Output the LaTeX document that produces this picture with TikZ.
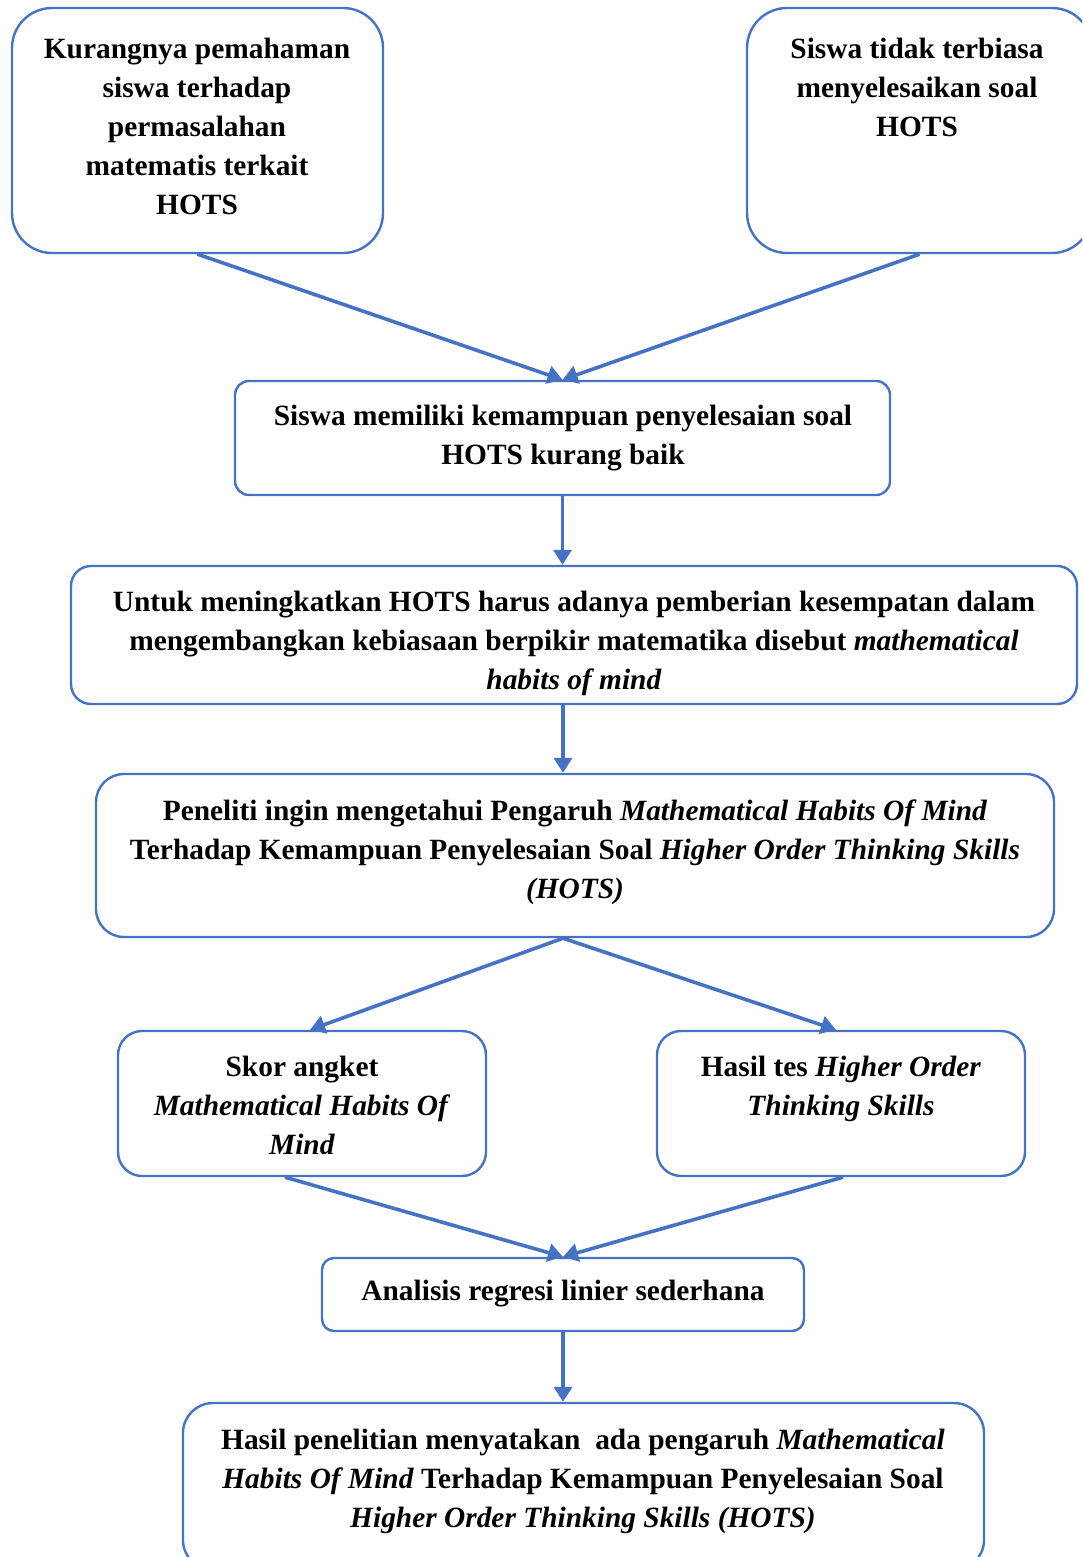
\documentclass[tikz,border=0pt]{standalone}
\usepackage{fontspec}
\setmainfont{Liberation Serif}
\usetikzlibrary{positioning, arrows.meta}
\definecolor{wordblue}{HTML}{4472C4}

\begin{document}
\begin{tikzpicture}[x=0.5pt, y=-0.5pt,
    box/.style={draw=wordblue, line width=1.2pt, rounded corners=#1, inner sep=0pt},
    box/.default=10pt,
    txt/.style={anchor=north, align=center, inner sep=0pt,
        font=\bfseries\fontsize{14.7}{19.5}\selectfont},
    link/.style={draw=wordblue, line width=1.8pt, -{Triangle[length=7.5pt,width=9pt]}}]
    \clip (0,0) rectangle (1082,1557);

    % boxes
    \node[box=20pt, minimum width=185.5pt, minimum height=122.5pt] (A) at (197.5,130.5) {};
    \node[box=20pt, minimum width=172.5pt, minimum height=122.5pt] (B) at (919.5,130.5) {};
    \node[box=7pt, minimum width=327.5pt, minimum height=57pt] (C) at (562.5,438) {};
    \node[box=10pt, minimum width=503pt, minimum height=69pt] (D) at (574,635) {};
    \node[box=14pt, minimum width=479pt, minimum height=81.5pt] (E) at (575,855.5) {};
    \node[box=12pt, minimum width=184pt, minimum height=72.5pt] (F) at (302,1103.5) {};
    \node[box=12pt, minimum width=184pt, minimum height=72.5pt] (G) at (841,1103.5) {};
    \node[box=6pt, minimum width=241pt, minimum height=36.5pt] (H) at (563,1294.5) {};
    \node[box=15pt, minimum width=400.5pt, minimum height=83.5pt] (I) at (583.5,1486.5) {};

    % texts
    \node[txt] (tA) at (197,38) {Kurangnya pemahaman\\siswa terhadap\\permasalahan\\matematis terkait\\HOTS};
    \node[txt] (tB) at (917,38) {Siswa tidak terbiasa\\menyelesaikan soal\\HOTS};
    \node[txt] (tC) at (563,405) {Siswa memiliki kemampuan penyelesaian soal\\HOTS kurang baik};
    \node[txt] (tD) at (574,591) {Untuk meningkatkan HOTS harus adanya pemberian kesempatan dalam\\
        mengembangkan kebiasaan berpikir matematika disebut \textit{mathematical}\\\textit{habits of mind}};
    \node[txt] (tE) at (575,799) {Peneliti ingin mengetahui Pengaruh \textit{Mathematical Habits Of Mind}\\
        Terhadap Kemampuan Penyelesaian Soal \textit{Higher Order Thinking Skills}\\\textit{(HOTS)}};
    \node[txt] (tF) at (302,1056) {Skor angket\\\textit{Mathematical Habits Of}\\\textit{Mind}};
    \node[txt] (tG) at (841,1056) {Hasil tes \textit{Higher Order}\\\textit{Thinking Skills}};
    \node[txt] (tH) at (563,1280) {Analisis regresi linier sederhana};
    \node[txt] (tI) at (583,1429)
        {Hasil penelitian menyatakan\ \ ada pengaruh \textit{Mathematical}\\
        \textit{Habits Of Mind} Terhadap Kemampuan Penyelesaian Soal\\
        \textit{Higher Order Thinking Skills (HOTS)}};

    % arrows
    \draw[link] (A.south) -- (C.north);
    \draw[link] (B.south) -- (C.north);
    \draw[link] (C.south) -- (C.south |- D.north);
    \draw[link] ([xshift=-5.5pt]D.south) -- ([xshift=-5.5pt]D.south |- E.north);
    \draw[link] ([xshift=-6pt]E.south) -- ([xshift=4pt]F.north);
    \draw[link] ([xshift=-6pt]E.south) -- ([xshift=-2.5pt]G.north);
    \draw[link] ([xshift=-8.5pt]F.south) -- (H.north);
    \draw[link] ([xshift=1pt]G.south) -- (H.north);
    \draw[link] (H.south) -- (H.south |- I.north);
\end{tikzpicture}
\end{document}
